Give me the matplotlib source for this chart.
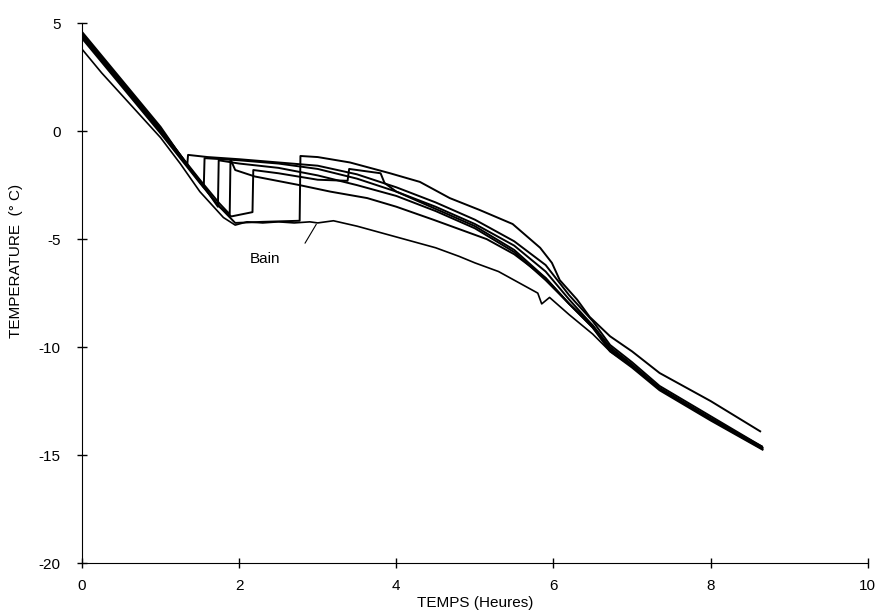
import matplotlib.pyplot as plt

plt.rcParams['font.family'] = ['Liberation Sans', 'DejaVu Sans']
plt.rcParams['axes.unicode_minus'] = False

# bath temperature (Bain)
bain_x = [0, 0.25, 0.5, 0.75, 1.0, 1.25, 1.5, 1.7, 1.8, 1.95, 2.1, 2.3, 2.5, 2.7, 2.9, 3.0, 3.2,
          3.5, 3.8, 4.0, 4.3, 4.5, 4.8, 5.0, 5.3, 5.5, 5.8, 5.85, 5.95, 6.2, 6.5, 6.72, 7.0, 7.35, 8.0, 8.66]
bain_y = [3.8, 2.7, 1.7, 0.7, -0.3, -1.5, -2.8, -3.6, -4.0, -4.35, -4.2, -4.25, -4.2, -4.25, -4.2, -4.25, -4.15,
          -4.4, -4.7, -4.9, -5.2, -5.4, -5.8, -6.1, -6.5, -6.9, -7.5, -8.0, -7.7, -8.5, -9.4, -10.2, -10.9, -11.9, -13.3, -14.7]

# samples, supercooling then release
a_x = [0, 0.25, 0.5, 0.75, 1.0, 1.2, 1.34, 1.35, 1.6, 2.0, 2.5, 3.0, 3.5, 4.0, 4.5, 5.0, 5.5, 5.9,
       6.2, 6.5, 6.72, 7.0, 7.35, 8.0, 8.65]
a_y = [4.6, 3.5, 2.4, 1.3, 0.2, -0.85, -1.55, -1.1, -1.2, -1.3, -1.45, -1.6, -2.0, -2.6, -3.3, -4.1, -5.1, -6.2,
       -7.6, -8.8, -9.9, -10.7, -11.8, -13.2, -14.6]

b_x = [0, 0.25, 0.5, 0.75, 1.0, 1.25, 1.55, 1.56, 2.0, 2.5, 3.0, 3.5, 4.0, 4.5, 5.0, 5.5, 5.9,
       6.2, 6.5, 6.72, 7.0, 7.35, 8.0, 8.66]
b_y = [4.5, 3.4, 2.3, 1.2, 0.1, -1.1, -2.6, -1.25, -1.35, -1.5, -1.75, -2.2, -2.8, -3.5, -4.3, -5.3, -6.5,
       -7.8, -9.0, -10.0, -10.8, -11.9, -13.3, -14.65]

c_x = [0, 0.25, 0.5, 0.75, 1.0, 1.25, 1.5, 1.73, 1.74, 2.0, 2.5, 3.0, 3.5, 4.0, 4.5, 5.0, 5.5, 5.9,
       6.2, 6.5, 6.72, 7.0, 7.35, 8.0, 8.65]
c_y = [4.4, 3.3, 2.2, 1.1, 0.0, -1.15, -2.3, -3.5, -1.35, -1.5, -1.7, -2.05, -2.5, -3.0, -3.7, -4.5, -5.6, -6.9,
       -8.0, -9.1, -10.1, -10.9, -11.95, -13.35, -14.7]

d_x = [0, 0.25, 0.5, 0.75, 1.0, 1.25, 1.5, 1.75, 1.88, 1.89, 1.95, 2.2, 2.77, 3.16, 3.63, 4.0, 4.47,
       5.15, 5.5, 5.9, 6.2, 6.5, 6.72, 7.0, 7.35, 8.0, 8.66]
d_y = [4.5, 3.4, 2.3, 1.2, 0.1, -1.1, -2.25, -3.35, -3.85, -1.3, -1.8, -2.1, -2.5, -2.8, -3.1, -3.5, -4.1,
       -5.0, -5.7, -6.8, -8.0, -9.1, -10.2, -10.95, -12.0, -13.4, -14.75]

e_x = [0, 0.25, 0.5, 0.75, 1.0, 1.25, 1.5, 1.75, 1.9, 2.17, 2.18, 2.5, 3.0, 3.38, 3.4, 3.8, 3.85,
       4.0, 4.5, 5.0, 5.5, 5.9, 6.2, 6.5, 6.72, 7.0, 7.35, 8.0, 8.65]
e_y = [4.3, 3.2, 2.1, 1.0, -0.1, -1.25, -2.4, -3.5, -3.95, -3.75, -1.8, -1.95, -2.25, -2.3, -1.75, -1.95, -2.4,
       -2.8, -3.6, -4.4, -5.5, -6.8, -8.0, -9.0, -10.1, -10.85, -11.9, -13.3, -14.6]

# top curve, released last, ends highest
f_x = [0, 0.25, 0.5, 0.75, 1.0, 1.25, 1.5, 1.75, 1.95, 2.3, 2.77, 2.78, 3.0, 3.41, 3.92, 4.3, 4.68,
       5.06, 5.48, 5.83, 5.98, 6.08, 6.3, 6.46, 6.72, 7.0, 7.35, 8.0, 8.63]
f_y = [4.4, 3.3, 2.2, 1.1, 0.0, -1.2, -2.35, -3.5, -4.25, -4.2, -4.15, -1.15, -1.2, -1.45, -1.95, -2.35, -3.1,
       -3.65, -4.3, -5.4, -6.1, -6.9, -7.8, -8.6, -9.5, -10.2, -11.2, -12.5, -13.9]

fig = plt.figure(figsize=(8.88, 6.1), dpi=100)
ax = fig.add_axes([0.0923, 0.077, 0.885, 0.885])

ax.plot(bain_x, bain_y, 'k', lw=1.2)
for xs, ys in [(a_x, a_y), (b_x, b_y), (c_x, c_y), (d_x, d_y), (e_x, e_y), (f_x, f_y)]:
    ax.plot(xs, ys, 'k', lw=1.4)

ax.annotate('', xy=(3.0, -4.2), xytext=(2.82, -5.3),
            arrowprops=dict(arrowstyle='-', lw=0.8, color='k'))
ax.text(2.33, -5.9, 'Bain', fontsize=11, ha='center', va='center')

ax.set_xlim(0, 10)
ax.set_ylim(-20, 5)
ax.set_xticks([0, 2, 4, 6, 8, 10])
ax.set_yticks([-20, -15, -10, -5, 0, 5])
ax.spines['top'].set_visible(False)
ax.spines['right'].set_visible(False)
ax.tick_params(direction='inout', length=7, width=1, labelsize=11)
ax.tick_params(axis='y', pad=12)
ax.tick_params(axis='x', pad=8)

ax.set_xlabel('TEMPS (Heures)', fontsize=11, labelpad=2)
ax.set_ylabel('TEMPERATURE  (° C)', fontsize=11)
ax.yaxis.set_label_coords(-0.075, 0.56)

fig.savefig('out.png', dpi=100)
